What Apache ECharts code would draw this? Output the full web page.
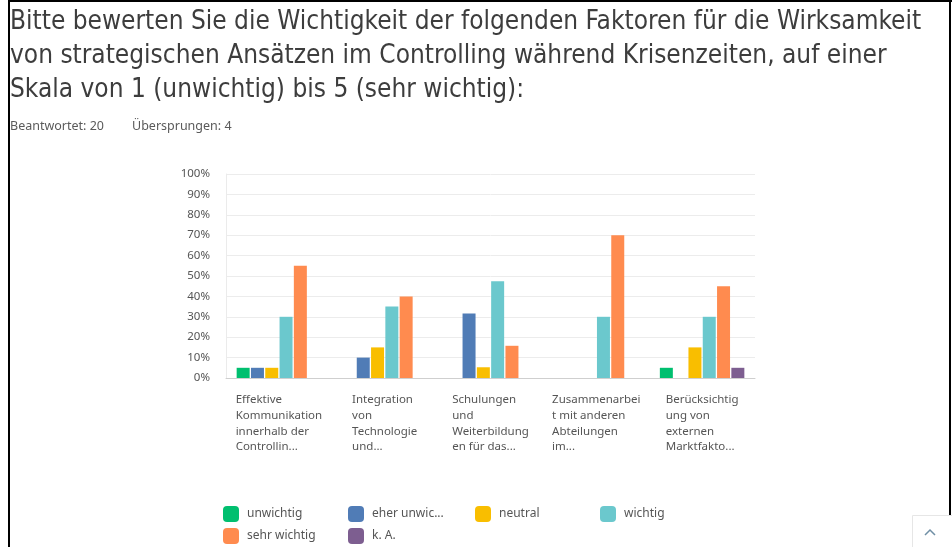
<!DOCTYPE html>
<html>
<head>
<meta charset="utf-8">
<script src="https://cdn.jsdelivr.net/npm/echarts@6/dist/echarts.min.js"></script>
<style>
    html, body { margin: 0; padding: 0; background: #fff; }
    #container { width: 952px; height: 547px; }
</style>
</head>
<body>
<div id="container"></div>
<script>
// category labels as shown under the axis
let categories = [
    'Effektive\nKommunikation\ninnerhalb der\nControllin...',
    'Integration\nvon\nTechnologie\nund...',
    'Schulungen\nund\nWeiterbildung\nen für das...',
    'Zusammenarbei\nt mit anderen\nAbteilungen\nim...',
    'Berücksichtig\nung von\nexternen\nMarktfakto...'
]
let seriesNames = ['unwichtig', 'eher unwichtig', 'neutral', 'wichtig', 'sehr wichtig', 'k. A.']
let seriesColors = ['#00BF6F', '#507CB6', '#F9BE00', '#6BC8CD', '#FF8B4F', '#7D5E90']

// percentages per category
let unwichtig = [5, 0, 0, 0, 5]
let eherUnwichtig = [5, 10, 31.58, 0, 0]
let neutral = [5, 15, 5.26, 0, 15]
let wichtig = [30, 35, 47.37, 30, 30]
let sehrWichtig = [55, 40, 15.79, 70, 45]
let keineAngabe = [0, 0, 0, 0, 5]

let allValues = [unwichtig, eherUnwichtig, neutral, wichtig, sehrWichtig, keineAngabe]

const font = '"Noto Sans", "Open Sans", sans-serif'

// legend slots (two rows, four columns)
let legendLeft = [223, 348, 475, 600, 223, 348]
let legendTop = [506, 506, 506, 506, 528, 528]

let options = {
    animation: false,
    title: {
        text: 'Bitte bewerten Sie die Wichtigkeit der folgenden Faktoren für die Wirksamkeit\nvon strategischen Ansätzen im Controlling während Krisenzeiten, auf einer\nSkala von 1 (unwichtig) bis 5 (sehr wichtig):',
        left: 5,
        top: 0,
        textStyle: {
            fontFamily: '"DejaVu Sans Condensed", Roboto, sans-serif',
            fontSize: 26,
            fontWeight: 'normal',
            color: '#3d3d3d',
            lineHeight: 34
        }
    },
    graphic: {
        elements: [
            {
                type: 'text',
                left: 10,
                top: 120,
                style: {
                    text: 'Beantwortet: 20',
                    font: '12.5px ' + font,
                    fill: '#5a5a5a'
                }
            },
            {
                type: 'text',
                left: 132,
                top: 120,
                style: {
                    text: 'Übersprungen: 4',
                    font: '12.5px ' + font,
                    fill: '#5a5a5a'
                }
            },
            // frame of the screenshot
            { type: 'rect', shape: { x: 8, y: 0, width: 2, height: 547 }, style: { fill: '#000' } },
            { type: 'rect', shape: { x: 8, y: 0, width: 944, height: 2 }, style: { fill: '#000' } },
            { type: 'rect', shape: { x: 949, y: 0, width: 2, height: 547 }, style: { fill: '#000' } },
            // scroll-up button
            {
                type: 'rect',
                shape: { x: 912.5, y: 515.5, width: 40, height: 40 },
                style: { fill: '#fff', stroke: '#e6e6e6', lineWidth: 1 }
            },
            {
                type: 'polyline',
                shape: { points: [[925, 535], [930, 530], [935, 535]] },
                style: { stroke: '#6f8fa5', lineWidth: 1.5, fill: null }
            }
        ]
    },
    legend: seriesNames.map((name, i) => ({
        left: legendLeft[i],
        top: legendTop[i],
        padding: 0,
        itemWidth: 16,
        itemHeight: 16,
        itemGap: 0,
        icon: 'roundRect',
        data: [name],
        formatter: n => n.length > 12 ? n.slice(0, 10) + '...' : n,
        textStyle: {
            fontFamily: font,
            fontSize: 12,
            color: '#555',
            padding: [0, 0, 0, 3]
        }
    })),
    grid: {
        left: 226,
        right: 197,
        top: 174,
        bottom: 169
    },
    xAxis: {
        type: 'category',
        data: categories,
        axisLine: {
            show: true,
            lineStyle: { color: '#cfcfcf' }
        },
        axisTick: { show: false },
        axisLabel: {
            interval: 0,
            margin: 14,
            formatter: v => v.split('\n').map(l => '{a|' + l + '}').join('\n'),
            rich: {
                a: {
                    align: 'left',
                    fontFamily: font,
                    fontSize: 11.5,
                    color: '#555',
                    lineHeight: 15.7
                }
            }
        }
    },
    yAxis: {
        type: 'value',
        min: 0,
        max: 100,
        interval: 10,
        axisLine: {
            show: true,
            lineStyle: { color: '#ebebeb' }
        },
        axisTick: { show: false },
        axisLabel: {
            margin: 16,
            fontFamily: font,
            fontSize: 11.5,
            color: '#555',
            formatter: '{value}%'
        },
        splitLine: {
            show: true,
            lineStyle: { color: '#ececec' }
        }
    },
    series: seriesNames.map((name, i) => ({
        name: name,
        type: 'bar',
        data: allValues[i],
        barWidth: 13,
        barGap: '10%',
        itemStyle: { color: seriesColors[i] }
    }))
}

let mychart = echarts.init(document.getElementById('container'))
mychart.setOption(options)
window.addEventListener('resize', () => { mychart.resize() })
</script>
</body>
</html>
